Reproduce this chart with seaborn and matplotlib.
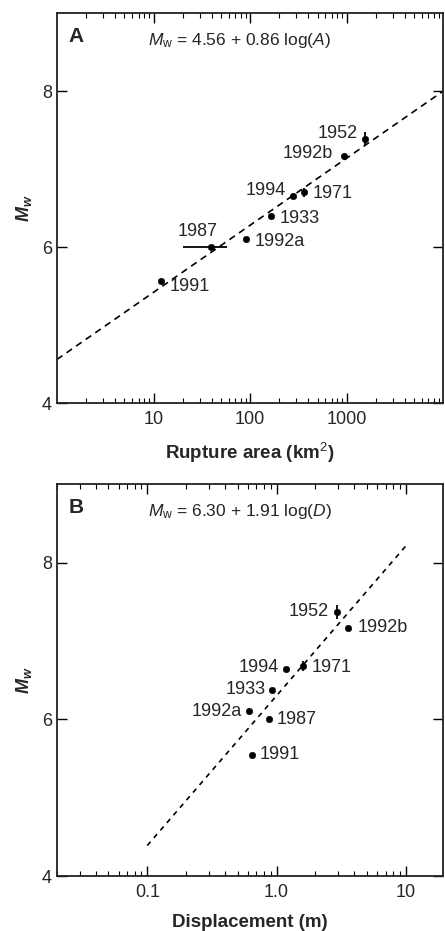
import numpy as np
import pandas as pd
import matplotlib
matplotlib.use("Agg")
import matplotlib.pyplot as plt
import seaborn as sns

# data
events = ["1991", "1987", "1992a", "1933", "1994", "1971", "1992b", "1952"]
area_km2 = [12, 39, 91, 166, 280, 365, 940, 1540]
displacement_m = [0.65, 0.88, 0.61, 0.93, 1.19, 1.6, 3.6, 2.96]
mw = [5.57, 6.0, 6.11, 6.40, 6.65, 6.70, 7.17, 7.39]
mw_b = [5.55, 6.0, 6.10, 6.38, 6.64, 6.68, 7.17, 7.37]
mw_err = [0, 0, 0, 0, 0, 0.06, 0, 0.09]
area_err_lo = [0, 19, 0, 0, 0, 0, 0, 0]
area_err_hi = [0, 19, 0, 0, 0, 0, 0, 0]

# fit coefficients given on the chart
fit_a = (4.56, 0.86)
fit_b = (6.30, 1.91)

# label offsets (points)
offs_a = [(6, -4), (-9, 11), (6, -2), (6, -2), (-5, 4), (6, -1), (-8, 2), (-5, 4)]
ha_a = ["left", "center", "left", "left", "right", "left", "right", "right"]
offs_b = [(5, 0), (5, 0), (-5, 0), (-5, 0), (-5, 1), (6, -1), (7, 0), (-6, 0)]
ha_b = ["left", "left", "right", "right", "right", "left", "left", "right"]

sns.set_style("ticks")
plt.rcParams["font.family"] = ["Liberation Sans", "DejaVu Sans"]
plt.rcParams["mathtext.fontset"] = "custom"
plt.rcParams["mathtext.rm"] = "Liberation Sans"
plt.rcParams["mathtext.it"] = "Liberation Sans:italic"
plt.rcParams["mathtext.bf"] = "Liberation Sans:bold:italic"

df = pd.DataFrame({"event": events, "area": area_km2, "disp": displacement_m,
                   "mw": mw, "mw_b": mw_b, "err": mw_err})

fig = plt.figure(figsize=(4.45, 9.31), dpi=100)
ax_a = fig.add_axes([0.128, 0.567, 0.868, 0.419])
ax_b = fig.add_axes([0.128, 0.059, 0.868, 0.421])


def style_axis(ax):
    ax.set_xscale("log")
    ax.set_ylim(4, 9)
    ax.set_yticks([4, 6, 8])
    ax.tick_params(which="both", direction="in", top=True, right=True,
                   labelsize=13, color="black")
    ax.tick_params(axis="x", pad=6)
    ax.tick_params(which="major", length=7, width=1)
    ax.tick_params(which="minor", length=3.5, width=0.8)
    for s in ax.spines.values():
        s.set_linewidth(1.3)
        s.set_color("#222222")
    ax.set_ylabel(r"$\mathbf{M_w}$", fontsize=13, labelpad=6)


# panel A
xa = np.array([1, 10000])
sns.lineplot(x=xa, y=fit_a[0] + fit_a[1] * np.log10(xa), ax=ax_a,
             color="black", linestyle=(0, (4, 3)), linewidth=1.2)
ax_a.errorbar(df["area"], df["mw"], xerr=[area_err_lo, area_err_hi],
              yerr=df["err"], fmt="none", ecolor="black", elinewidth=1.3)
sns.scatterplot(data=df, x="area", y="mw", ax=ax_a, color="black", s=22,
                edgecolor="black", zorder=3)
for i, ev in enumerate(events):
    ax_a.annotate(ev, (area_km2[i], mw[i]), xytext=offs_a[i],
                  textcoords="offset points", ha=ha_a[i], va="center",
                  fontsize=13)
ax_a.set_xlim(1, 10000)
style_axis(ax_a)
ax_a.set_xticks([10, 100, 1000])
ax_a.set_xticklabels(["10", "100", "1000"])
ax_a.set_xlabel("Rupture area (km$^{\\mathrm{2}}$)", fontsize=13.5,
                fontweight="bold", labelpad=9)
ax_a.text(0.03, 0.965, "A", transform=ax_a.transAxes, fontsize=15,
          fontweight="bold", va="top")
ax_a.text(0.235, 0.93, r"$M_\mathrm{w}$ = 4.56 + 0.86 log($A$)",
          transform=ax_a.transAxes, fontsize=12.5, va="center")

# panel B
xb = np.array([0.1, 10])
sns.lineplot(x=xb, y=fit_b[0] + fit_b[1] * np.log10(xb), ax=ax_b,
             color="black", linestyle=(0, (3, 3)), linewidth=1.2)
ax_b.errorbar(df["disp"], df["mw_b"], yerr=df["err"], fmt="none",
              ecolor="black", elinewidth=1.3)
sns.scatterplot(data=df, x="disp", y="mw_b", ax=ax_b, color="black", s=22,
                edgecolor="black", zorder=3)
for i, ev in enumerate(events):
    ax_b.annotate(ev, (displacement_m[i], mw_b[i]), xytext=offs_b[i],
                  textcoords="offset points", ha=ha_b[i], va="center",
                  fontsize=13)
ax_b.set_xlim(0.02, 19.5)
style_axis(ax_b)
ax_b.set_xticks([0.1, 1, 10])
ax_b.set_xticklabels(["0.1", "1.0", "10"])
ax_b.set_xlabel("Displacement (m)", fontsize=13.5, fontweight="bold",
                labelpad=9)
ax_b.text(0.03, 0.965, "B", transform=ax_b.transAxes, fontsize=15,
          fontweight="bold", va="top")
ax_b.text(0.235, 0.93, r"$M_\mathrm{w}$ = 6.30 + 1.91 log($D$)",
          transform=ax_b.transAxes, fontsize=12.5, va="center")

fig.savefig("out.png", dpi=100)
